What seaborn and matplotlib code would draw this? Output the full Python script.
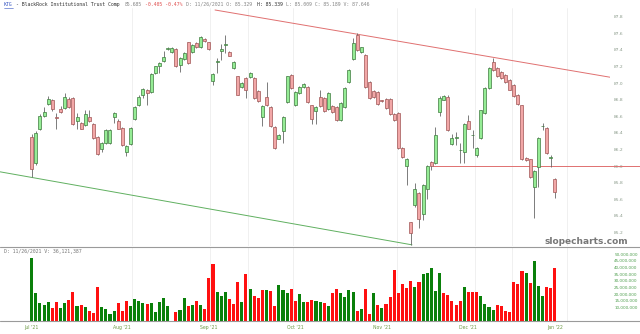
import numpy as np
import pandas as pd
import matplotlib
matplotlib.use('Agg')
import matplotlib.pyplot as plt
from matplotlib.lines import Line2D
import seaborn as sns

# OHLC (Jul 2021 - Jan 2022), one row per session
opens = [86.35, 86.04, 86.45, 86.60, 86.75, 86.80, 86.59, 86.69, 86.70, 86.81,
         86.82, 86.54, 86.52, 86.49, 86.59, 86.51, 86.35, 86.20, 86.28, 86.28,
         86.59, 86.54, 86.46, 86.17, 86.26, 86.57, 86.73, 86.86, 86.92, 86.89,
         87.12, 87.20, 87.26, 87.41, 87.37, 87.41, 87.22, 87.29, 87.49, 87.37,
         87.48, 87.43, 87.53, 87.49, 87.02, 87.25, 87.39, 87.46, 87.37, 87.18,
         87.08, 86.95, 87.06, 87.07, 87.06, 86.90, 86.59, 86.83, 86.71, 86.47,
         86.33, 86.42, 86.77, 87.10, 86.73, 86.88, 86.95, 86.95, 86.73, 86.66,
         86.83, 86.82, 86.69, 86.72, 86.71, 86.55, 86.71, 87.01, 87.29, 87.58,
         87.37, 87.34, 87.01, 86.90, 86.89, 86.79, 86.81, 86.81, 86.63, 86.64,
         86.22, 86.00, 85.32, 85.53, 85.67, 85.42, 85.72, 86.05, 86.04, 86.65,
         86.80, 86.83, 86.26, 86.34, 86.19, 86.17, 86.54, 86.37, 86.13, 86.34,
         86.64, 86.94, 87.25, 87.18, 87.13, 87.10, 87.04, 86.98, 86.86, 86.73,
         86.10, 86.08, 85.75, 85.99, 86.48, 86.46, 86.10, 85.84]
closes = [85.96, 86.40, 86.60, 86.65, 86.81, 86.69, 86.58, 86.65, 86.83, 86.71,
          86.51, 86.59, 86.45, 86.63, 86.54, 86.34, 86.14, 86.28, 86.43, 86.43,
          86.64, 86.45, 86.25, 86.24, 86.46, 86.71, 86.83, 86.93, 86.88, 87.11,
          87.20, 87.24, 87.31, 87.42, 87.42, 87.20, 87.30, 87.36, 87.24, 87.46,
          87.43, 87.55, 87.51, 87.41, 87.11, 87.26, 87.41, 87.46, 87.33, 87.25,
          86.86, 87.00, 86.92, 87.12, 86.82, 86.78, 86.72, 86.73, 86.48, 86.22,
          86.37, 86.59, 87.08, 86.94, 86.89, 86.95, 86.99, 86.77, 86.57, 86.71,
          86.72, 86.66, 86.88, 86.65, 86.55, 86.76, 86.94, 87.16, 87.48, 87.40,
          87.43, 86.95, 86.82, 86.83, 86.75, 86.78, 86.70, 86.63, 86.55, 86.22,
          86.11, 86.08, 85.19, 85.72, 85.36, 85.77, 86.00, 86.00, 86.37, 86.82,
          86.84, 86.43, 86.34, 86.34, 86.19, 86.51, 86.45, 86.37, 86.22, 86.67,
          86.94, 87.18, 87.16, 87.08, 87.06, 87.01, 86.92, 86.84, 86.75, 86.08,
          86.07, 85.87, 85.94, 86.34, 86.48, 86.16, 86.10, 85.69]
highs = [86.38, 86.42, 86.63, 86.71, 86.84, 86.81, 86.64, 86.72, 86.88, 86.83,
         86.83, 86.64, 86.53, 86.67, 86.67, 86.52, 86.36, 86.29, 86.44, 86.45,
         86.65, 86.57, 86.47, 86.25, 86.47, 86.72, 86.85, 86.94, 86.93, 87.12,
         87.21, 87.25, 87.39, 87.44, 87.43, 87.42, 87.31, 87.37, 87.50, 87.47,
         87.49, 87.57, 87.54, 87.50, 87.12, 87.30, 87.47, 87.58, 87.38, 87.26,
         87.09, 87.01, 87.07, 87.13, 87.07, 86.91, 86.73, 87.01, 86.72, 86.48,
         86.38, 86.60, 87.09, 87.11, 86.90, 86.96, 87.00, 86.96, 86.74, 86.72,
         86.92, 86.83, 86.89, 86.73, 86.72, 86.77, 86.95, 87.17, 87.54, 87.60,
         87.44, 87.35, 87.02, 86.91, 86.90, 86.80, 86.82, 86.82, 86.64, 86.65,
         86.23, 86.10, 85.33, 85.80, 85.69, 85.78, 86.01, 86.06, 86.47, 86.84,
         86.86, 86.85, 86.38, 86.41, 86.28, 86.52, 86.61, 86.43, 86.23, 86.68,
         86.95, 87.19, 87.30, 87.19, 87.14, 87.11, 87.05, 86.99, 86.87, 86.74,
         86.11, 86.09, 85.95, 86.35, 86.52, 86.47, 86.13, 85.86]
lows = [85.87, 86.01, 86.43, 86.59, 86.74, 86.66, 86.45, 86.64, 86.69, 86.70,
        86.50, 86.45, 86.44, 86.48, 86.53, 86.33, 86.13, 86.17, 86.27, 86.27,
        86.52, 86.44, 86.24, 86.12, 86.25, 86.56, 86.72, 86.82, 86.73, 86.88,
        87.11, 87.12, 87.25, 87.40, 87.36, 87.19, 87.13, 87.28, 87.23, 87.36,
        87.42, 87.42, 87.50, 87.40, 86.98, 87.12, 87.28, 87.36, 87.32, 87.17,
        86.85, 86.94, 86.82, 87.06, 86.81, 86.77, 86.48, 86.72, 86.47, 86.21,
        86.32, 86.28, 86.76, 86.93, 86.72, 86.87, 86.94, 86.76, 86.51, 86.51,
        86.71, 86.65, 86.68, 86.64, 86.54, 86.54, 86.70, 87.00, 87.28, 87.39,
        87.36, 86.94, 86.81, 86.82, 86.74, 86.77, 86.69, 86.62, 86.54, 86.21,
        86.10, 85.77, 85.05, 85.50, 85.25, 85.35, 85.60, 85.95, 86.03, 86.60,
        86.79, 86.42, 86.25, 86.25, 86.04, 86.04, 86.44, 86.22, 86.11, 86.33,
        86.63, 86.93, 87.15, 87.07, 87.05, 87.00, 86.91, 86.83, 86.74, 86.07,
        86.06, 85.86, 85.37, 85.75, 86.43, 86.15, 85.99, 85.61]

# volume in millions of shares and the bar colour the chart gives each day
volume_m = [47, 21, 13, 11.7, 14, 9.7, 14.2, 9.7, 13, 15.5,
            21.3, 11, 11.7, 10, 7.4, 5.7, 25, 10.4, 8.7, 4.9,
            7.4, 13, 6.9, 14.5, 11.2, 16.2, 15, 13.4, 12.2, 13,
            6.4, 13.7, 17.2, 11, 0, 6.6, 7.9, 17.2, 11, 11.7,
            14.7, 11.7, 8.7, 32.3, 42.6, 21.3, 18.5, 21.3, 16, 12.5,
            29, 14.2, 35, 23.8, 18.7, 16.7, 23, 23, 22.3, 11,
            26.6, 23, 21, 23.5, 14.7, 20, 14.2, 13.7, 15.2, 14.7,
            14, 13, 11, 20.5, 23.8, 20.5, 17.5, 23, 21.5, 6.9,
            8.5, 24, 4.9, 20.5, 11.7, 9.2, 12.7, 17.5, 38, 20.5,
            27.5, 24.8, 29.6, 25.3, 29, 35, 35.6, 40, 22, 36,
            20.5, 19, 14.7, 11.7, 14.7, 25.3, 21.5, 21.5, 21.5, 18.5,
            12.2, 10.2, 8.1, 11.7, 11.2, 7.2, 6.4, 29, 27.3, 37.6,
            36, 28, 45, 26.3, 18.7, 25.3, 24.5, 39.4]
volume_dir = ['G', 'G', 'G', 'G', 'G', 'R', 'R', 'G', 'G', 'R',
              'R', 'G', 'R', 'G', 'R', 'R', 'R', 'G', 'G', 'G',
              'G', 'R', 'R', 'R', 'G', 'G', 'G', 'G', 'R', 'G',
              'G', 'G', 'G', 'G', 'G', 'R', 'G', 'G', 'R', 'G',
              'R', 'G', 'R', 'R', 'R', 'G', 'G', 'G', 'R', 'R',
              'R', 'G', 'R', 'G', 'R', 'R', 'R', 'G', 'R', 'R',
              'G', 'G', 'G', 'R', 'R', 'G', 'G', 'R', 'R', 'G',
              'G', 'R', 'G', 'R', 'R', 'G', 'G', 'G', 'G', 'R',
              'G', 'R', 'R', 'G', 'R', 'G', 'R', 'R', 'R', 'R',
              'R', 'R', 'R', 'G', 'R', 'G', 'G', 'G', 'G', 'G',
              'R', 'R', 'R', 'R', 'R', 'G', 'R', 'R', 'R', 'G',
              'G', 'G', 'G', 'R', 'R', 'R', 'R', 'R', 'R', 'R',
              'G', 'R', 'G', 'G', 'G', 'R', 'R', 'R']

month_labels = ["Jul '21", "Aug '21", "Sep '21", "Oct '21", "Nov '21", "Dec '21", "Jan '22"]
month_pos = [0, 22, 43, 64, 85, 106, 127]
grid_pos = [24.3, 43.3, 52.5, 63.4, 88.7, 107.6, 116.6, 130]
price_ticks = [85.2, 85.4, 85.6, 85.8, 86.0, 86.2, 86.4, 86.6, 86.8, 87.0, 87.2, 87.4, 87.6, 87.8]
vol_ticks = [10, 15, 20, 25, 30, 35, 40, 45, 50]

df = pd.DataFrame({'day': np.arange(len(opens)), 'open': opens, 'high': highs,
                   'low': lows, 'close': closes,
                   'volume': np.array(volume_m) * 1e6})
vol_colors = ['#0a800a' if d == 'G' else '#ff1010' for d in volume_dir]

sns.set_theme(style='white')
plt.rcParams['font.family'] = ['DejaVu Sans']

W, H = 640, 334
fig = plt.figure(figsize=(6.4, 3.34), dpi=100)
fig.patch.set_facecolor('white')

def fx(px):
    return px / W

def fy(py):
    return 1 - py / H

x0 = -31.7 / 4.12
x1 = (610 - 31.7) / 4.12

ax = fig.add_axes([0, fy(246), fx(610), fy(8) - fy(246)])
axv = fig.add_axes([0, fy(320.5), fx(610), fy(247) - fy(320.5)])

# candles
up = df['close'] >= df['open']
body_lo = np.minimum(df['open'], df['close'])
body_h = np.maximum(np.abs(df['close'] - df['open']), 0.006)
ax.vlines(df['day'], df['low'], df['high'], color='#666666', lw=0.6, zorder=2)
ax.bar(df['day'], body_h, bottom=body_lo, width=0.72,
       color=np.where(up, '#95ec95', '#f2a7a7'),
       edgecolor=np.where(up, '#3f7a3f', '#a05555'), linewidth=0.5, zorder=3)

# trendlines
ax.plot([44.5, x1], [87.88, 87.07], color='#e07070', lw=0.7, zorder=1)
ax.plot([x0, 92.3], [85.93, 85.05], color='#60b060', lw=0.7, zorder=1)
ax.plot([97.4, (640 - 31.7) / 4.12], [86.0, 86.0], color='#e07070', lw=0.7,
        zorder=1, clip_on=False)

ax.set_xlim(x0, x1)
ax.set_ylim(85.036, 87.904)
ax.yaxis.tick_right()
ax.set_yticks(price_ticks)
ax.set_yticklabels([f'{v:.1f}' for v in price_ticks])
ax.tick_params(axis='y', length=0, pad=3, labelsize=3.2, labelcolor='#8a9a8a')
ax.set_xticks([])

# volume: one hue level per day so each bar keeps its own colour at full width
sns.barplot(data=df, x='day', y='volume', hue='day', palette=vol_colors,
            width=0.75, errorbar=None, legend=False, saturation=1,
            linewidth=0, ax=axv)
axv.set_xlim(x0, x1)
axv.set_ylim(0, 55.5e6)
axv.yaxis.tick_right()
axv.set_yticks([v * 1e6 for v in vol_ticks])
axv.set_yticklabels([f'{v * 1000000:,}' for v in vol_ticks])
axv.tick_params(axis='y', length=0, pad=3, labelsize=3.0, labelcolor='#4f9f4f')
axv.set_xticks(month_pos)
axv.set_xticklabels(month_labels)
axv.tick_params(axis='x', length=0, pad=3, labelsize=3.3, labelcolor='#6d9a45')
axv.set_xlabel('')
axv.set_ylabel('')

for a in (ax, axv):
    for s in a.spines.values():
        s.set_visible(False)
    for g in grid_pos:
        a.axvline(g, color='#eeeeee', lw=0.6, zorder=0)
    a.set_facecolor('none')

# panel separators
for py in (246.5, 320.5):
    fig.add_artist(Line2D([0, 1], [fy(py), fy(py)], transform=fig.transFigure,
                          color='#9a9a9a', lw=0.8))

# header text
mono = 'DejaVu Sans Mono'
cw = 2.94
parts = [
    (0, 'KTG', '#3050c0'),
    (4, '- BlackRock Institutional Trust Comp', '#333333'),
    (41, '85.685', '#888888'),
    (48, '-0.405 -0.47%', '#e05050'),
    (62, 'D: 11/26/2021 O: 85.329', '#888888'),
    (86, 'H: 85.339', '#333333'),
    (96, 'L: 85.009 C: 85.189 V: 87.646', '#888888'),
]
for ci, txt, col in parts:
    fig.text(fx(4 + cw * ci), fy(4.5), txt, fontsize=3.5, family=mono,
             color=col, va='center', ha='left')
fig.add_artist(Line2D([fx(4), fx(4 + cw * 3)], [fy(7.5), fy(7.5)],
                      transform=fig.transFigure, color='#3050c0', lw=0.4))
fig.text(fx(4), fy(251), 'D: 11/26/2021 V: 36,121,387', fontsize=3.5,
         family=mono, color='#777777', va='center', ha='left')

fig.text(fx(586), fy(241), 'slopecharts.com', fontsize=6.5, fontweight='bold',
         color='#777777', va='center', ha='center')

fig.savefig('out.png', dpi=100, facecolor='white')
